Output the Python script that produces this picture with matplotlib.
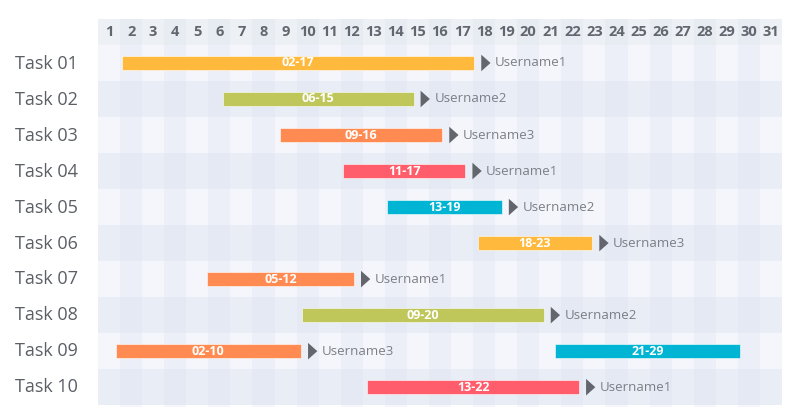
import matplotlib.pyplot as plt
from matplotlib.patches import Polygon

tasks = ["Task 01", "Task 02", "Task 03", "Task 04", "Task 05",
         "Task 06", "Task 07", "Task 08", "Task 09", "Task 10"]
days = list(range(1, 32))

# one entry per bar: row index, start, end (day coords as drawn), label, colour, user
bar_rows = [0, 1, 2, 3, 4, 5, 6, 7, 8, 8, 9]
bar_start = [1.6, 6.15, 8.75, 11.6, 13.6, 17.7, 5.45, 9.75, 1.3, 21.2, 12.7]
bar_end = [17.55, 14.8, 16.1, 17.15, 18.8, 22.9, 12.1, 20.7, 9.7, 29.6, 22.3]
bar_labels = ["02-17", "06-15", "09-16", "11-17", "13-19", "18-23",
              "05-12", "09-20", "02-10", "21-29", "13-22"]
bar_colors = ["#FFBA3D", "#BFC65A", "#FF8B52", "#FF5D6B", "#00B4D3", "#FFBA3D",
              "#FF8B52", "#BFC65A", "#FF8B52", "#00B4D3", "#FF5D6B"]
bar_users = ["Username1", "Username2", "Username3", "Username1", "Username2",
             "Username3", "Username1", "Username2", "Username3", None, "Username1"]

FONT = ["Open Sans", "DejaVu Sans"]

fig = plt.figure(figsize=(8, 4.07), dpi=100)
ax = fig.add_axes([98 / 800, 0, (782 - 98) / 800, (407 - 19) / 407])
ax.set_xlim(0.5, 31.5)
ax.set_ylim(9.55, -1.22)
ax.axis("off")

# background grid: header band, alternating rows, alternating columns
ax.axhspan(-1.22, -0.5, color="#edf0f5", lw=0, zorder=0)
for i in range(len(tasks)):
    ax.axhspan(i - 0.5, i + 0.5, color="#f4f6fb" if i % 2 == 0 else "#e9eef6",
               lw=0, zorder=0)
for d in days:
    if d % 2 == 0:
        ax.axvspan(d - 0.5, d + 0.5, color="#d6deec", alpha=0.25, lw=0, zorder=1)

# header day numbers
for d in days:
    ax.text(d, -0.86, str(d), ha="center", va="center", fontsize=10.5,
            fontweight="bold", color="#62676f", family=FONT, zorder=3)

# task names
for i, t in enumerate(tasks):
    fig.text(15 / 800, 1 - (64 + i * 35.9) / 407, t, ha="left", va="center",
             fontsize=13, color="#5b5f66", family=FONT)

bh = 0.38
for r, s, e, lab, c, u in zip(bar_rows, bar_start, bar_end, bar_labels,
                              bar_colors, bar_users):
    ax.barh(r, e - s, left=s, height=bh, color=c, edgecolor="#ffffff",
            linewidth=0.4, zorder=4)
    ax.text((s + e) / 2, r, lab, ha="center", va="center", fontsize=9,
            fontweight="bold", color="white", family=FONT, zorder=5)
    if u is None:
        continue
    x0 = e + 0.32
    tri = Polygon([[x0, r - 0.23], [x0, r + 0.23], [x0 + 0.42, r]],
                  closed=True, color="#63666c", lw=0, zorder=5)
    ax.add_patch(tri)
    ax.text(x0 + 0.62, r, u, ha="left", va="center", fontsize=9.5,
            color="#7b7f86", family=FONT, zorder=5)

fig.savefig("out.png", dpi=100)
